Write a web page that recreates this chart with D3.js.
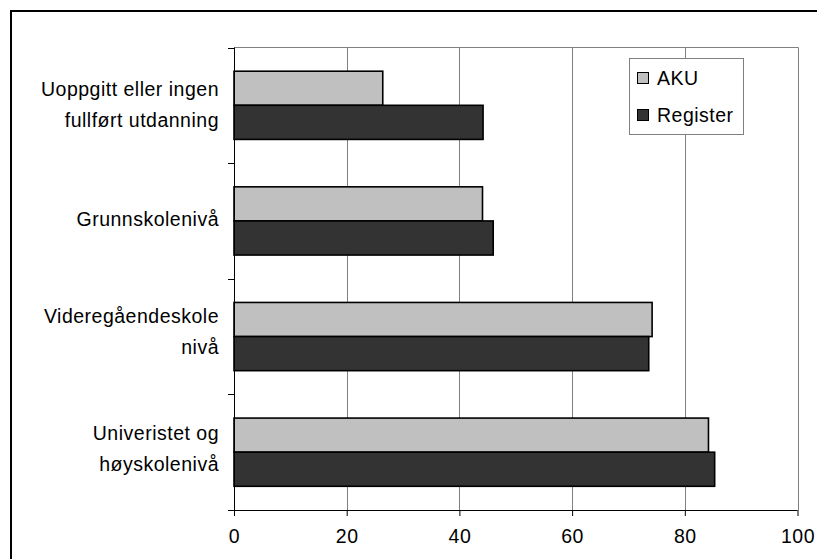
<!DOCTYPE html>
<html><head><meta charset="utf-8">
<script src="https://cdn.jsdelivr.net/npm/d3@7"></script>
<style>
html,body{margin:0;padding:0;background:#fff;}
svg{display:block;}
text{font-family:"Liberation Sans",Arial,sans-serif;fill:#000;}
</style></head>
<body>
<svg id="chart" width="817" height="559"></svg>
<script>
const categories = [
  ["Uoppgitt eller ingen", "fullført utdanning"],
  ["Grunnskolenivå"],
  ["Videregåendeskole", "nivå"],
  ["Univeristet og", "høyskolenivå"]
];
const seriesNames = ["AKU", "Register"];
const akuValues = [26.4, 44.1, 74.2, 84.2];
const registerValues = [44.2, 46.0, 73.6, 85.3];
const xTicks = [0, 20, 40, 60, 80, 100];
const colors = ["#c0c0c0", "#333333"];

(function () {
const svg = d3.select("#chart");
const pl = 234, pr = 797.5, pt = 47.5, pb = 510;
const fs = 19.5, ls = 0.5;

// outer border
svg.append("rect").attr("x", 11).attr("y", 11).attr("width", 830).attr("height", 580)
  .attr("fill", "none").attr("stroke", "#000").attr("stroke-width", 2);

const x = d3.scaleLinear().domain([0, 100]).range([pl, pr]);
const idx = d3.range(categories.length);
const y = d3.scaleBand().domain(idx).range([pt, pb]).paddingInner(0.41).paddingOuter(0.205);
const yg = d3.scaleBand().domain([0, 1]).range([0, y.bandwidth()]);

// gridlines
svg.append("g").selectAll("line").data(xTicks.slice(1)).join("line")
  .attr("x1", d => Math.round(x(d)) + 0.5).attr("x2", d => Math.round(x(d)) + 0.5)
  .attr("y1", pt).attr("y2", pb)
  .attr("stroke", "#808080").attr("stroke-width", 1);
// top frame
svg.append("line").attr("x1", pl).attr("x2", Math.round(x(100)) + 0.5)
  .attr("y1", pt).attr("y2", pt).attr("stroke", "#808080").attr("stroke-width", 1);

// bars
const data = [akuValues, registerValues];
data.forEach((vals, s) => {
  svg.append("g").selectAll("rect").data(vals).join("rect")
    .attr("x", x(0))
    .attr("y", (d, i) => y(i) + yg(s))
    .attr("width", d => x(d) - x(0))
    .attr("height", yg.bandwidth())
    .attr("fill", colors[s])
    .attr("stroke", "#000").attr("stroke-width", 1.6);
});

// x axis
const xAxis = d3.axisBottom(x).tickValues(xTicks).tickSize(6).tickPadding(13).tickFormat(d3.format("d"));
const gx = svg.append("g").attr("transform", `translate(0,${pb})`).call(xAxis);
gx.select(".domain").attr("d", `M${pl - 6},0.5H${x(100)}`).attr("stroke", "#000");
gx.selectAll(".tick line").attr("stroke", "#000");
gx.selectAll(".tick text").attr("font-size", fs).attr("letter-spacing", ls)
  .attr("font-family", "Liberation Sans, Arial, sans-serif").attr("fill", "#000");

// y axis line with band-boundary ticks
const yTickPos = idx.map(i => y(i) - y.step() * y.paddingInner() / 2);
yTickPos[0] = pt;
const gy = svg.append("g");
gy.append("line").attr("x1", pl + 0.5).attr("x2", pl + 0.5).attr("y1", pt).attr("y2", pb + 6)
  .attr("stroke", "#000");
gy.selectAll("line.t").data(yTickPos).join("line").attr("class", "t")
  .attr("x1", pl - 6).attr("x2", pl).attr("y1", d => Math.round(d) + 0.5).attr("y2", d => Math.round(d) + 0.5)
  .attr("stroke", "#000");

// category labels
const lineH = 31;
const labelAdj = [-1, -2, -5, -4];
categories.forEach((lines, i) => {
  const cy = y(i) + y.bandwidth() / 2 + labelAdj[i];
  const t = svg.append("text").attr("text-anchor", "end").attr("font-size", fs).attr("letter-spacing", ls);
  lines.forEach((ln, j) => {
    t.append("tspan").attr("x", 219)
      .attr("y", cy + (j - (lines.length - 1) / 2) * lineH + 7)
      .text(ln);
  });
});

// legend
const lg = svg.append("g");
lg.append("rect").attr("x", 629.5).attr("y", 58.5).attr("width", 114).attr("height", 76)
  .attr("fill", "#fff").attr("stroke", "#808080").attr("stroke-width", 1);
seriesNames.forEach((name, i) => {
  const yy = 72 + i * 37;
  lg.append("rect").attr("x", 637.5).attr("y", yy + 0.5).attr("width", 11).attr("height", 11)
    .attr("fill", colors[i]).attr("stroke", "#000").attr("stroke-width", 1);
  lg.append("text").attr("x", 657).attr("y", yy + 12.5).attr("font-size", fs).attr("letter-spacing", ls).text(name);
});
})();
</script>
</body></html>
